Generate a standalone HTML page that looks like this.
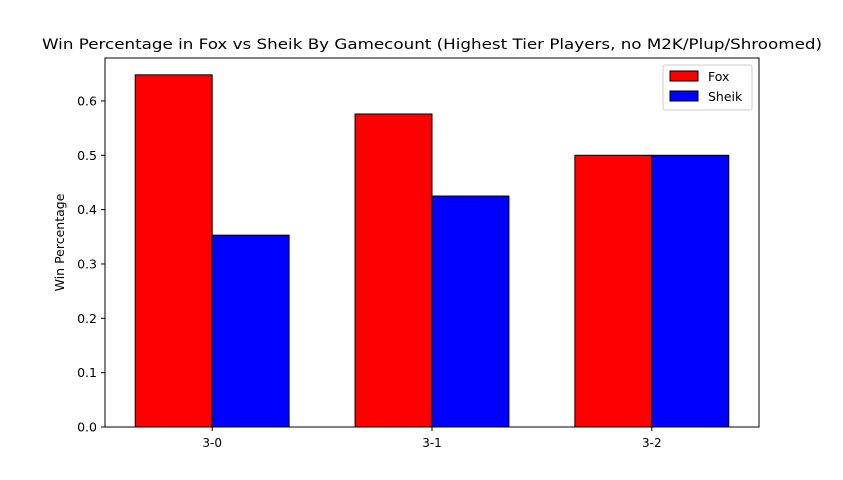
<!DOCTYPE html>
<html><head><meta charset="utf-8"><style>
body{margin:0;background:#fff;}
svg{display:block;font-family:"DejaVu Sans","Liberation Sans",sans-serif;}
</style></head><body>
<svg id="chart" width="843" height="480"></svg>
<script>
const categories=["3-0","3-1","3-2"];
const foxValues=[0.648,0.576,0.5];
const sheikValues=[0.353,0.425,0.5];
const yTicks=[0,0.1,0.2,0.3,0.4,0.5,0.6];
const seriesNames=["Fox","Sheik"];

const svg=document.getElementById('chart');
const NS='http://www.w3.org/2000/svg';
const L=105,R=759,T=58,B=427;
const xMin=-0.4875,xMax=2.4875,yMax=0.679;
const xs=v=>L+(v-xMin)/(xMax-xMin)*(R-L);
const ys=v=>B-v/yMax*(B-T);
const bw=0.35;
function mk(tag,attrs,text){const e=document.createElementNS(NS,tag);for(const k in attrs)e.setAttribute(k,attrs[k]);if(text!==undefined)e.textContent=text;svg.appendChild(e);return e;}

let t=mk('text',{x:432,y:49,'text-anchor':'middle','font-size':14.6,textLength:780,lengthAdjust:'spacingAndGlyphs'},'Win Percentage in Fox vs Sheik By Gamecount (Highest Tier Players, no M2K/Plup/Shroomed)');



const series=[[foxValues,'#ff0000',-bw],[sheikValues,'#0000ff',0]];
series.forEach((s,si)=>{
  s[0].forEach((v,i)=>{
    const x0=xs(i+s[2]),x1=xs(i+s[2]+bw);
    const r=mk('rect',{x:x0,y:ys(v),width:x1-x0,height:ys(0)-ys(v),fill:s[1],stroke:'#000','stroke-width':1});
    
    
  });
});

const ax=mk('rect',{x:L,y:T,width:R-L,height:B-T,fill:'none',stroke:'#000','stroke-width':1});



yTicks.forEach(v=>{
  const y=ys(v);
  mk('line',{x1:L-4,x2:L,y1:y,y2:y,stroke:'#000'});
  const tx=mk('text',{x:L-8,y:y+4.5,'text-anchor':'end','font-size':12.5},v.toFixed(1));
  
  
});
categories.forEach((c,i)=>{
  const x=xs(i);
  mk('line',{x1:x,x2:x,y1:B,y2:B+4,stroke:'#000'});
  const tx=mk('text',{x:x,y:B+20,'text-anchor':'middle','font-size':12},c);
  
  
});
const yt=mk('text',{x:0,y:0,'text-anchor':'middle','font-size':12.5,transform:'translate(64,'+((T+B)/2)+') rotate(-90)'},'Win Percentage');



const lg=mk('rect',{x:663,y:65,width:89,height:45,fill:'#fff',stroke:'#ccc',rx:2});


['#ff0000','#0000ff'].forEach((c,i)=>{
  const y=71+i*20;
  const sw=mk('rect',{x:670,y:y,width:28,height:10,fill:c,stroke:'#000'});
  
  
  const tx=mk('text',{x:708,y:y+10,'font-size':12.5},seriesNames[i]);
  
  
});
</script>
</body></html>
